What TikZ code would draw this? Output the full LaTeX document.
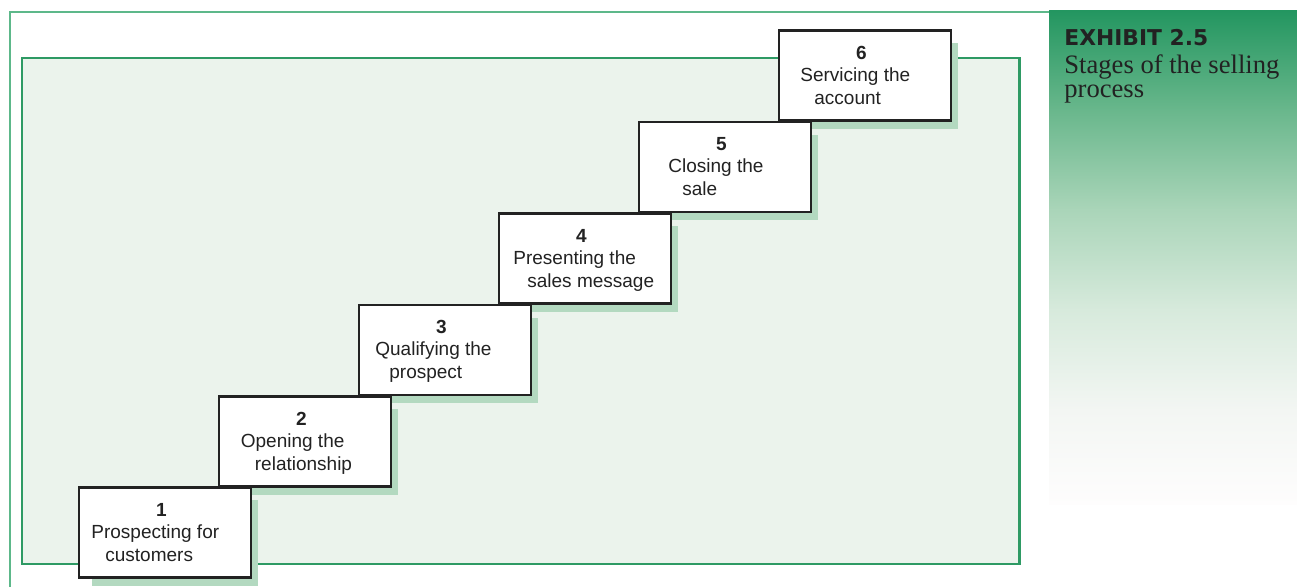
\documentclass[tikz,border=0pt]{standalone}
\usepackage{fontspec}
\setmainfont{Liberation Sans}
\newfontfamily\exhibitfont{DejaVu Sans}
\newfontfamily\captionfont{Liberation Serif}
\definecolor{panelfill}{RGB}{235,243,236}
\definecolor{panelline}{RGB}{46,154,100}
\definecolor{frameline}{RGB}{93,184,138}
\definecolor{shadowgreen}{RGB}{179,217,192}
\definecolor{ink}{RGB}{34,34,34}
\definecolor{gA}{RGB}{35,150,96}
\definecolor{gB}{RGB}{105,183,140}
\definecolor{gC}{RGB}{170,213,185}
\definecolor{gD}{RGB}{215,234,220}
\definecolor{gE}{RGB}{243,246,243}
\definecolor{gF}{RGB}{254,253,253}
\begin{document}
\begin{tikzpicture}[x=0.5pt,y=-0.5pt,
  stagebox/.style={draw=ink, line width=1.25pt, fill=white, rectangle,
    minimum width=86pt, minimum height=45pt, inner sep=0pt, anchor=north west},
  numlabel/.style={font=\fontsize{9.5}{11}\selectfont\bfseries, text=ink, inner sep=0pt, anchor=base},
  steplabel/.style={font=\fontsize{9.5}{11}\selectfont, text=ink, inner sep=0pt, anchor=base west},
  headlabel/.style={inner sep=0pt, anchor=base west, text=ink}]
  \useasboundingbox (0,0) rectangle (1297,587);

  % thin outer frame, left and top sides only
  \draw[frameline, line width=0.6pt] (10,587) -- (10,12) -- (1049,12);

  % tinted panel behind the staircase
  \draw[panelline, line width=1.3pt, fill=panelfill] (22,58) rectangle (1019.5,564);

  % fading green side panel
  \shade[top color=gA, bottom color=gB] (1049,10.5) rectangle (1297,110.5);
  \shade[top color=gB, bottom color=gC] (1049,110) rectangle (1297,210.5);
  \shade[top color=gC, bottom color=gD] (1049,210) rectangle (1297,310.5);
  \shade[top color=gD, bottom color=gE] (1049,310) rectangle (1297,410.5);
  \shade[top color=gE, bottom color=gF] (1049,410) rectangle (1297,505);

  \node[headlabel, font=\exhibitfont\fontsize{10.9}{12}\selectfont\bfseries] (exhibit) at (1064,45.5) {EXHIBIT 2.5};
  \node[headlabel, font=\captionfont\fontsize{13.3}{12}\selectfont] (captionA) at (1064,74) {Stages of the selling};
  \node[headlabel, font=\captionfont\fontsize{13.3}{12}\selectfont] (captionB) at (1064,98) {process};

  % shadows of the steps
  \foreach \k in {1,...,6} {
    \pgfmathsetmacro\bx{77.5+140*(\k-1)}
    \pgfmathsetmacro\by{486.5-91.4*(\k-1)}
    \fill[shadowgreen] (\bx+14,\by+14) rectangle (\bx+180,\by+99.5);
  }

  % the steps
  \foreach \k/\la/\lb/\oa in {1/Prospecting for/customers/13.5,
                              2/Opening the/relationship/23,
                              3/Qualifying the/prospect/17.5,
                              4/Presenting the/sales message/15.5,
                              5/Closing the/sale/30.5,
                              6/Servicing the/account/22.5} {
    \pgfmathsetmacro\bx{77.5+140*(\k-1)}
    \pgfmathsetmacro\by{486.5-91.4*(\k-1)}
    \node[stagebox] (stage\k) at (\bx,\by) {};
    \node[numlabel] (num\k) at (\bx+84,\by+30) {\k};
    \node[steplabel] (first\k) at (\bx+\oa,\by+52) {\la};
    \node[steplabel] (second\k) at (\bx+\oa+14,\by+75) {\lb};
  }
\end{tikzpicture}
\end{document}
